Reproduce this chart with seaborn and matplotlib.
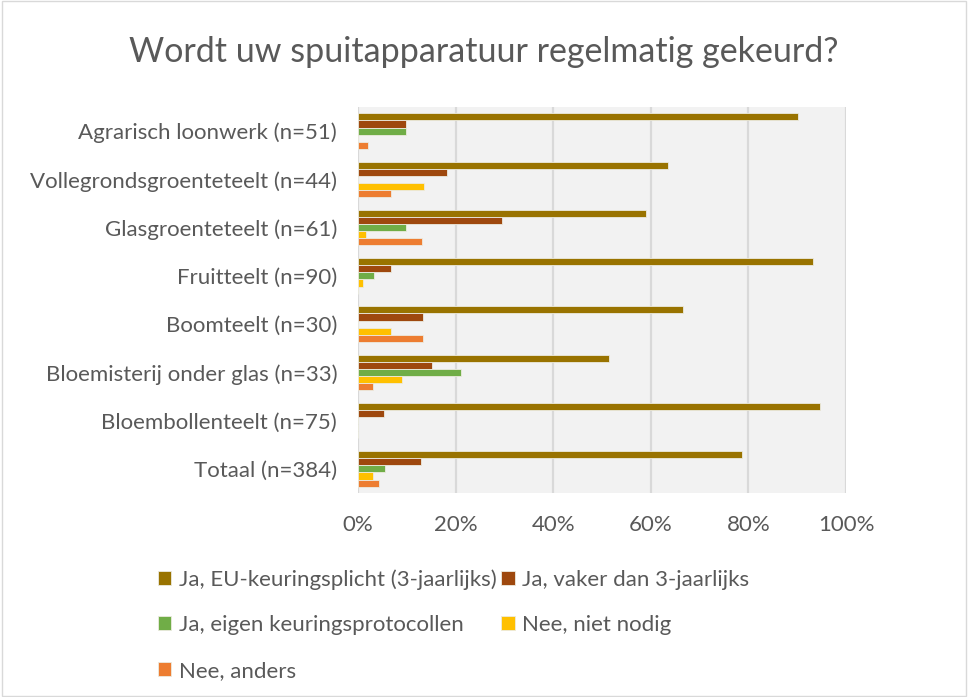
import pandas as pd
import matplotlib.pyplot as plt
import matplotlib.patches as mpatches
from matplotlib.ticker import PercentFormatter
import seaborn as sns

sectors = ['Agrarisch loonwerk (n=51)', 'Vollegrondsgroenteteelt (n=44)',
           'Glasgroenteteelt (n=61)', 'Fruitteelt (n=90)', 'Boomteelt (n=30)',
           'Bloemisterij onder glas (n=33)', 'Bloembollenteelt (n=75)',
           'Totaal (n=384)']
answers = ['Ja, EU-keuringsplicht (3-jaarlijks)', 'Ja, vaker dan 3-jaarlijks',
           'Ja, eigen keuringsprotocollen', 'Nee, niet nodig', 'Nee, anders']

eu_plicht = [90.2, 63.6, 59.0, 93.3, 66.7, 51.5, 94.7, 78.6]
vaker = [9.8, 18.2, 29.5, 6.7, 13.3, 15.2, 5.3, 12.9]
eigen = [9.8, 0.0, 9.8, 3.3, 0.0, 21.2, 0.0, 5.5]
niet_nodig = [0.0, 13.6, 1.6, 1.1, 6.7, 9.1, 0.0, 3.1]
anders = [2.0, 6.8, 13.1, 0.0, 13.3, 3.0, 0.0, 4.4]

colors = ['#997300', '#9E480E', '#70AD47', '#FFC000', '#ED7D31']

rows = []
for vals, ans in zip([eu_plicht, vaker, eigen, niet_nodig, anders], answers):
    for sec, v in zip(sectors, vals):
        rows.append({'sector': sec, 'antwoord': ans, 'pct': v})
df = pd.DataFrame(rows)

sns.set_style('white')
plt.rcParams['font.family'] = ['Lato', 'DejaVu Sans']
txt = '#595959'

fig = plt.figure(figsize=(9.68, 6.97), dpi=100)
ax = fig.add_axes([358 / 968, 1 - 493 / 697, 488 / 968, 386 / 697])

sns.barplot(data=df, y='sector', x='pct', hue='antwoord', order=sectors,
            hue_order=answers, palette=colors, saturation=1, orient='h',
            width=0.74, edgecolor='#ecebe0', linewidth=0.6, ax=ax, legend=True)

ax.set_facecolor('#F2F2F2')
ax.set_xlim(0, 100)
ax.set_xticks([0, 20, 40, 60, 80, 100])
ax.xaxis.set_major_formatter(PercentFormatter(decimals=0))
ax.grid(axis='x', color='#D9D9D9', linewidth=1.6)
ax.set_axisbelow(True)
for s in ax.spines.values():
    s.set_visible(False)
ax.set_xlabel('')
ax.set_ylabel('')
ax.tick_params(axis='x', labelsize=16, labelcolor=txt, pad=16, length=0)
ax.tick_params(axis='y', labelsize=16, labelcolor=txt, pad=15, length=0)

fig.text(0.5, 1 - 52 / 697, 'Wordt uw spuitapparatuur regelmatig gekeurd?',
         ha='center', va='center', fontsize=24.5, color=txt)

# row-wise legend order (matplotlib fills columns first)
handles, labels = ax.get_legend_handles_labels()
ax.legend_.remove()
order = [0, 2, 4, 1, 3]
fig.legend([handles[i] for i in order], [labels[i] for i in order], ncol=2,
           frameon=False, loc='upper left',
           bbox_to_anchor=(138 / 968, 1 - 549 / 697),
           fontsize=16, labelcolor=txt, handlelength=0.6,
           handleheight=0.6, handletextpad=0.35, labelspacing=1.15,
           columnspacing=0.2)

fig.patches.append(mpatches.Rectangle((0.002, 0.002), 0.996, 0.996,
                                      transform=fig.transFigure, fill=False,
                                      edgecolor='#D9D9D9', linewidth=1))

fig.savefig('out.png', dpi=100)
